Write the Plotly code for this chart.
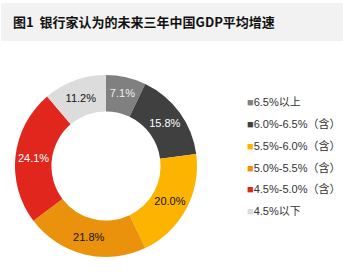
import plotly.graph_objects as go

title = "图1  银行家认为的未来三年中国GDP平均增速"
labels = ["6.5%以上", "6.0%-6.5%（含）", "5.5%-6.0%（含）", "5.0%-5.5%（含）", "4.5%-5.0%（含）", "4.5%以下"]
values = [7.1, 15.8, 20.0, 21.8, 24.1, 11.2]
colors = ["#808080", "#404040", "#FDB400", "#EB920C", "#E1271D", "#DCDCDC"]
text_colors = ["#f0f0f0", "#ffffff", "#111111", "#111111", "#ffffff", "#111111"]

W, H = 343, 280
fig = go.Figure()
fig.add_trace(go.Pie(
    labels=labels, values=values, sort=False, direction="clockwise", rotation=0,
    hole=0.6, marker=dict(colors=colors, line=dict(width=0)),
    texttemplate="%{value:.1f}%", textinfo="text", textposition="inside",
    insidetextorientation="horizontal",
    textfont=dict(family="Liberation Sans, Arial, sans-serif", size=11, color=text_colors),
    domain=dict(x=[15 / W, 197 / W], y=[1 - 257 / H, 1 - 75 / H]),
    showlegend=False, hoverinfo="label+value",
))

# title bar
fig.add_shape(type="rect", xref="paper", yref="paper", x0=1 / W, x1=1, y0=1 - 41 / H, y1=1 - 3 / H,
              fillcolor="#F2F2F2", line=dict(width=0), layer="below")
fig.add_annotation(text="<b>" + title + "</b>", xref="paper", yref="paper", x=11 / W, y=1 - 22 / H,
                   xanchor="left", yanchor="middle", showarrow=False,
                   font=dict(family="Noto Sans CJK SC", size=13, color="#111111"))

# manual legend
y0, dy = 102, 21.7
for i, (lab, col) in enumerate(zip(labels, colors)):
    fig.add_annotation(
        text="<span style='color:%s'>■</span>%s" % (col, lab),
        xref="paper", yref="paper", x=245 / W, y=1 - (y0 + i * dy) / H,
        xanchor="left", yanchor="middle", showarrow=False,
        font=dict(family="Liberation Sans, Noto Sans CJK SC, sans-serif", size=11, color="#333333"))

fig.update_layout(width=W, height=H, margin=dict(l=0, r=0, t=0, b=0),
                  paper_bgcolor="white", plot_bgcolor="white")
fig.write_html("out.html")
